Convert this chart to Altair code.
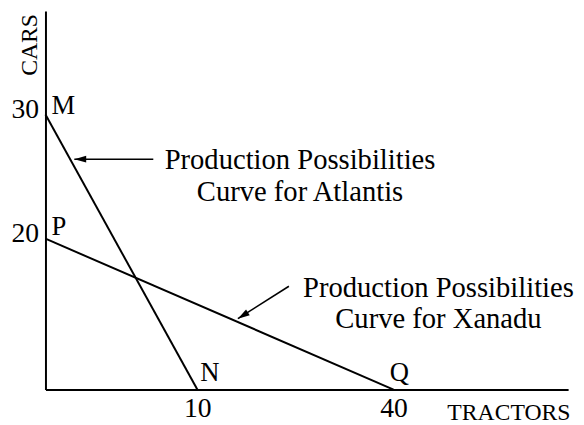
import altair as alt
import pandas as pd

FONT = "Liberation Serif"

# Curves (data units)
atlantis_x = [0, 10]
atlantis_y = [30, 0]
xanadu_x = [0, 40]
xanadu_y = [20, 0]

# Axis ticks
x_ticks = [10, 40]
y_ticks = [20, 30]

# Point labels
point_names = ["M", "N", "P", "Q"]
point_x = [0, 10, 0, 40]
point_y = [30, 0, 20, 0]

# Annotation texts and arrows (data units)
atl_text = ["Production Possibilities", "Curve for Atlantis"]
atl_text_pos = [25.7, 25.6]
atl_arrow_tail = [7.1, 26.4]
atl_arrow_tip = [1.9, 26.4]

xan_text = ["Production Possibilities", "Curve for Xanadu"]
xan_text_pos = [41.8, 12.3]
xan_arrow_tail = [24.0, 13.7]
xan_arrow_tip = [16.2, 9.4]

# Schematic (not-to-scale) axes: piecewise linear scales
x_scale = alt.Scale(domain=[0, 10, 40, 47], range=[0, 154, 353, 530], nice=False, zero=False)
y_scale = alt.Scale(domain=[0, 20, 30, 36], range=[384, 231, 105, 0], nice=False, zero=False)

x_axis = alt.Axis(
    values=x_ticks, title="TRACTORS", grid=False, ticks=False,
    domainColor="black", domainWidth=2,
    labelFont=FONT, labelFontSize=28, labelColor="black", labelPadding=5, labelFlush=False,
    titleFont=FONT, titleFontSize=24, titleFontWeight="normal", titleColor="black",
    titleX=407, titleY=30, titleAlign="left", titleBaseline="alphabetic",
)
y_axis = alt.Axis(
    values=y_ticks, title="CARS", grid=False, ticks=False,
    domainColor="black", domainWidth=2,
    labelFont=FONT, labelFontSize=28, labelColor="black", labelPadding=7, labelFlush=False,
    labelBaseline="middle", labelOffset=-5,
    titleFont=FONT, titleFontSize=24, titleFontWeight="normal", titleColor="black",
    titleX=-9, titleY=34, titleAngle=270, titleAlign="center", titleBaseline="alphabetic",
)

curves = pd.DataFrame({
    "x": atlantis_x + xanadu_x,
    "y": atlantis_y + xanadu_y,
    "curve": ["Atlantis"] * len(atlantis_x) + ["Xanadu"] * len(xanadu_x),
})

base_x = alt.X("x:Q", scale=x_scale, axis=x_axis)
base_y = alt.Y("y:Q", scale=y_scale, axis=y_axis)

lines = alt.Chart(curves).mark_line(color="black", strokeWidth=2).encode(
    x=base_x, y=base_y, detail="curve:N"
)

def xy():
    return dict(x=alt.X("x:Q", scale=x_scale), y=alt.Y("y:Q", scale=y_scale))

layers = [lines]

label_offsets = {"M": (6, 0), "N": (3, -9), "P": (6, -4), "Q": (-4, -9)}
for name, px, py in zip(point_names, point_x, point_y):
    dx, dy = label_offsets[name]
    df = pd.DataFrame({"x": [px], "y": [py], "t": [name]})
    layers.append(
        alt.Chart(df).mark_text(
            font=FONT, fontSize=27, color="black", align="left",
            baseline="alphabetic", dx=dx, dy=dy,
        ).encode(text="t:N", **xy())
    )

arrow_path = "M0,0L0.58,2L-0.58,2Z"

def arrow(tail, tip, angle):
    seg = pd.DataFrame({"x": [tail[0]], "y": [tail[1]], "x2": [tip[0]], "y2": [tip[1]]})
    shaft = alt.Chart(seg).mark_rule(color="black", strokeWidth=1.6).encode(
        x=alt.X("x:Q", scale=x_scale), y=alt.Y("y:Q", scale=y_scale),
        x2="x2:Q", y2="y2:Q",
    )
    head_df = pd.DataFrame({"x": [tip[0]], "y": [tip[1]]})
    head = alt.Chart(head_df).mark_point(
        shape=arrow_path, filled=True, color="black", size=144, opacity=1,
        angle=angle, strokeWidth=0,
    ).encode(**xy())
    return [shaft, head]

layers += arrow(atl_arrow_tail, atl_arrow_tip, 270)
layers += arrow(xan_arrow_tail, xan_arrow_tip, 237.6)

def note(lines_, pos):
    df = pd.DataFrame({"x": [pos[0]], "y": [pos[1]], "t": [lines_]})
    return alt.Chart(df).mark_text(
        font=FONT, fontSize=29, color="black", align="center",
        baseline="alphabetic", lineHeight=32,
    ).encode(text="t", **xy())

layers.append(note(atl_text, atl_text_pos))
layers.append(note(xan_text, xan_text_pos))

chart = alt.layer(*layers).properties(
    width=530, height=384,
    padding={"left": 38, "top": 0, "right": 8, "bottom": 33},
    autosize=alt.AutoSizeParams(type="none"),
    background="white",
).configure_view(stroke=None)

chart.save("out.html", embed_options={"renderer": "svg", "actions": False})
